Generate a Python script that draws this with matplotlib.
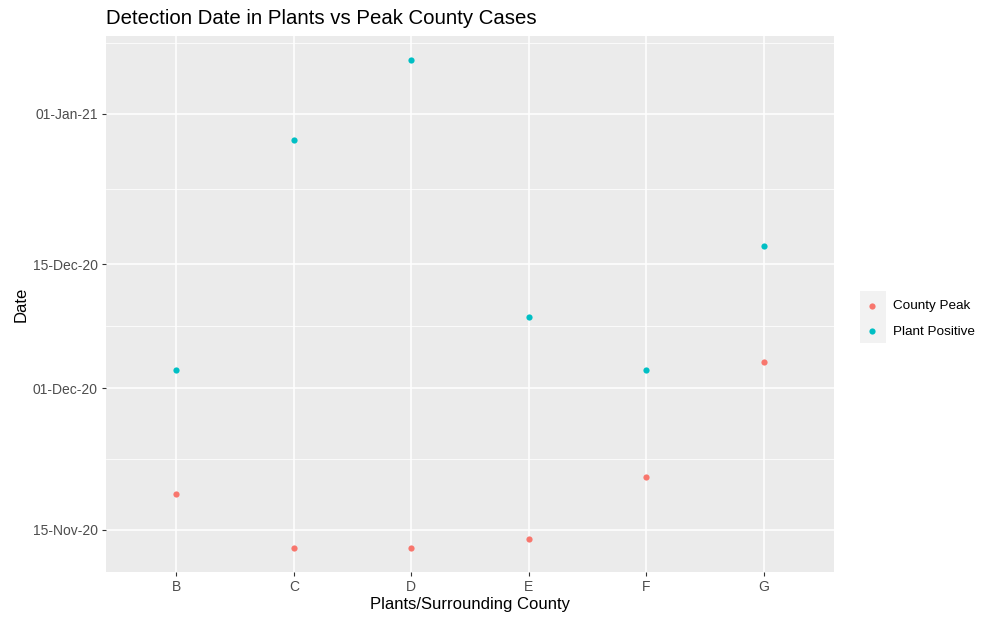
import numpy as np
import matplotlib
matplotlib.use('Agg')
import matplotlib.pyplot as plt
import matplotlib.dates as mdates
from matplotlib.patches import Rectangle
from datetime import datetime

# Data
plants = ['B', 'C', 'D', 'E', 'F', 'G']
countyPeak = ['2020-11-19', '2020-11-13', '2020-11-13', '2020-11-14', '2020-11-21', '2020-12-04']
plantPositive = ['2020-12-03', '2020-12-29', '2021-01-07', '2020-12-09', '2020-12-03', '2020-12-17']
seriesNames = ['County Peak', 'Plant Positive']
seriesColors = ['#F8766D', '#00BFC4']
majorDates = ['2020-11-15', '2020-12-01', '2020-12-15', '2021-01-01']

def toNum(dates):
    return mdates.date2num([datetime.strptime(d, '%Y-%m-%d') for d in dates])

plt.rcParams['font.family'] = ['Liberation Sans', 'DejaVu Sans']

fig = plt.figure(figsize=(9.92, 6.17), dpi=100)
ax = fig.add_axes([106/992, 1 - 572/617, (834 - 106)/992, (572 - 36)/617])
ax.set_facecolor('#EBEBEB')
for s in ax.spines.values():
    s.set_visible(False)

xPos = np.arange(1, len(plants) + 1)
handles = []
for vals, name, col in zip([countyPeak, plantPositive], seriesNames, seriesColors):
    h = ax.scatter(xPos, toNum(vals), s=20, color=col, label=name, zorder=3, linewidths=0)
    handles.append(h)

# ggplot-like limits (discrete x expand 0.6, continuous y expand 5%)
allY = np.concatenate([toNum(countyPeak), toNum(plantPositive)])
yMin, yMax = allY.min(), allY.max()
pad = 0.05*(yMax - yMin)
ax.set_ylim(yMin - pad, yMax + pad)
ax.set_xlim(0.4, len(plants) + 0.6)

majNum = toNum(majorDates)
ax.set_yticks(majNum)
ax.yaxis.set_major_formatter(mdates.DateFormatter('%d-%b-%y'))
minorNum = list((majNum[:-1] + majNum[1:])/2) + [majNum[-1] + 8]
ax.set_yticks(minorNum, minor=True)
ax.set_xticks(xPos)
ax.set_xticklabels(plants)

ax.grid(True, which='major', color='white', linewidth=1.1, zorder=0)
ax.grid(True, which='minor', axis='y', color='white', linewidth=0.55, zorder=0)
ax.set_axisbelow(True)
ax.tick_params(which='major', length=3, width=0.8, color='#333333', labelcolor='#4D4D4D', labelsize=10, pad=3)
ax.tick_params(which='minor', length=0)

ax.set_xlabel('Plants/Surrounding County', fontsize=12, labelpad=2)
ax.set_ylabel('Date', fontsize=12, labelpad=3)
fig.text(106/992, 1 - 18/617, 'Detection Date in Plants vs Peak County Cases',
         fontsize=14.7, ha='left', va='center')

# legend with grey key background
fig.add_artist(Rectangle((860/992, 1 - 343/617), 26/992, 52/617,
                         transform=fig.transFigure, facecolor='#F2F2F2', edgecolor='none'))
fig.legend(handles=handles, labels=seriesNames, loc='center left',
           bbox_to_anchor=(852/992, 1 - 319/617), frameon=False, fontsize=9.7,
           handlelength=1.2, handletextpad=0.95, labelspacing=0.97, markerscale=1.0)

fig.savefig('out.png', dpi=100)
